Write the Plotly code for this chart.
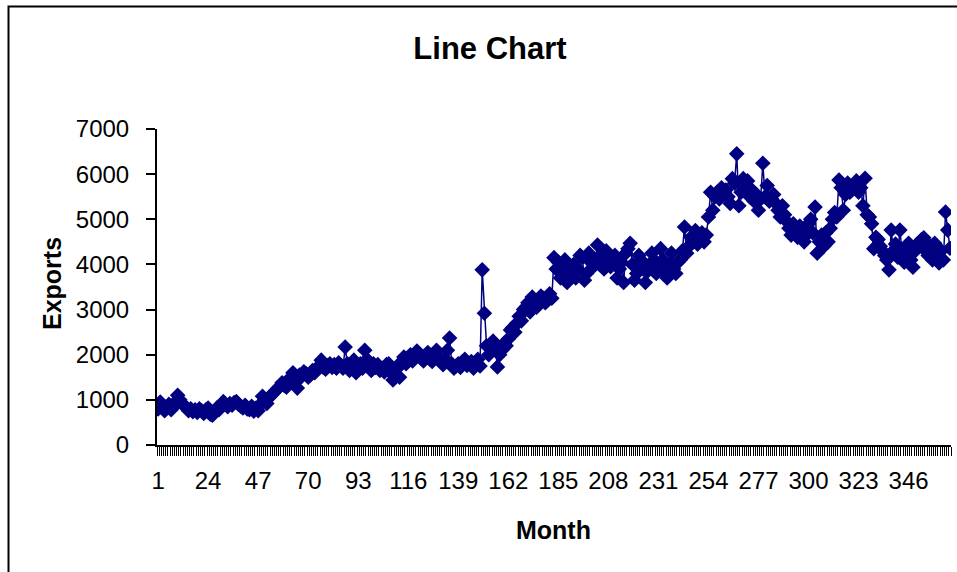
import plotly.graph_objects as go

months = list(range(1, 366))

exports = [
    800, 950, 880, 760, 820, 900, 780, 850, 950, 1100, 1000, 920,
    880, 820, 760, 800, 740, 780, 720, 800, 760, 700, 780, 820,
    680, 660, 760, 820, 780, 880, 960, 900, 850, 920, 880, 940,
    960, 900, 860, 820, 880, 800, 780, 860, 750, 820, 760, 900,
    1080, 1000, 920, 1050, 1100, 1150, 1200, 1250, 1300, 1380, 1320, 1280,
    1420, 1500, 1600, 1380, 1260, 1550, 1520, 1620, 1580, 1500, 1550, 1650,
    1600, 1700, 1750, 1880, 1720, 1680, 1760, 1800, 1720, 1780, 1700, 1820,
    1760, 1700, 2170, 1800, 1650, 1720, 1880, 1600, 1750, 1800, 1700, 2100,
    1900, 1750, 1650, 1800, 1720, 1780, 1650, 1700, 1620, 1780, 1800, 1600,
    1440, 1550, 1700, 1500, 1850, 1950, 1800, 1900, 2000, 1860, 1950, 2080,
    2000, 1920, 1860, 1980, 2050, 1900, 1850, 2000, 2100, 1950, 1850, 1780,
    1900, 2100, 2370, 1800, 1700, 1750, 1800, 1720, 1850, 1900, 1760, 1800,
    1850, 1700, 1780, 1900, 1750, 3880, 2920, 2200, 2000, 2250, 2300, 2150,
    1730, 2000, 2100, 2250, 2200, 2350, 2550, 2600, 2500, 2700, 2850, 2750,
    3000, 3050, 3150, 2950, 3280, 3150, 3050, 3200, 3300, 3250, 3150, 3200,
    3350, 3250, 4150, 3900, 4050, 3700, 3850, 4100, 3600, 3950, 3800, 4000,
    3700, 3900, 4200, 4150, 3650, 3800, 4250, 4050, 3950, 4100, 4430, 4000,
    4200, 3900, 4300, 4100, 3950, 4150, 4200, 3700, 3900, 4050, 3600, 4250,
    4350, 4470, 4000, 3650, 3800, 4200, 4100, 3900, 3600, 3850, 4000, 4250,
    4100, 3800, 3950, 4350, 4100, 3850, 3700, 4000, 4250, 3900, 3800, 4050,
    4100, 4300, 4830, 4250, 4400, 4600, 4500, 4750, 4450, 4550, 4700, 4500,
    4650, 5050, 5600, 5200, 5500, 5600, 5450, 5700, 5550, 5650, 5500, 5350,
    5900, 5800, 6450, 5300, 5600, 5900, 5700, 5850, 5500, 5650, 5400, 5550,
    5200, 5450, 6240, 5500, 5750, 5400, 5450, 5550, 5350, 5200, 5050, 5300,
    5100, 4950, 4800, 4650, 4900, 4700, 4600, 4850, 4750, 4500, 4650, 4900,
    5000, 4700, 5270, 4250, 4500, 4650, 4400, 4700, 4500, 4800, 5000, 5150,
    5050, 5870, 5700, 5200, 5550, 5800, 5600, 5650, 5750, 5850, 5600, 5700,
    5300, 5910, 5100, 5050, 4900, 4350, 4600, 4550, 4400, 4300, 4200, 4100,
    3880, 4760, 4300, 4450, 4160, 4760, 4300, 4050, 4200, 4470, 4100, 3940,
    4300, 4450, 4400, 4550, 4590, 4300, 4200, 4400, 4100, 4470, 4200, 4030,
    4300, 4100, 5160, 4760, 4360,
]

label_months = [1, 24, 47, 70, 93, 116, 139, 162, 185, 208, 231, 254, 277, 300, 323, 346]
y_ticks = [0, 1000, 2000, 3000, 4000, 5000, 6000, 7000]

FONT = "Arial, 'Liberation Sans', sans-serif"
NAVY = "#000080"

fig = go.Figure()
fig.add_trace(go.Scatter(
    x=months, y=exports, mode="lines+markers",
    line=dict(color=NAVY, width=1.5),
    marker=dict(symbol="diamond", size=12, color=NAVY),
    showlegend=False,
))

n = len(months)

fig.update_layout(
    width=957, height=572,
    margin=dict(l=157, r=6, t=129, b=127),
    paper_bgcolor="white", plot_bgcolor="white",
    font=dict(family=FONT, color="black", size=24),
    title=dict(text="<b>Line Chart</b>", x=490/957, y=1-48/572,
               xref="container", yref="container",
               xanchor="center", yanchor="middle",
               font=dict(size=31, family=FONT, color="black")),
    xaxis=dict(
        range=[0.5, n + 0.5], tickmode="array", tickvals=label_months,
        ticktext=[str(m) for m in label_months], ticks="",
        ticklabelstandoff=13,
        tickfont=dict(size=24, family=FONT, color="black"),
        minor=dict(tick0=0.5, dtick=1, ticks="outside", ticklen=9,
                   tickwidth=1.2, tickcolor="black", showgrid=False),
        showline=True, linecolor="black", linewidth=2,
        showgrid=False, zeroline=False,
    ),
    yaxis=dict(
        range=[0, 7000], tickmode="array", tickvals=y_ticks,
        ticks="outside", ticklen=9, tickwidth=2, tickcolor="black",
        showline=True, linecolor="black", linewidth=2,
        showgrid=False, zeroline=False, ticklabelstandoff=12,
        tickfont=dict(size=24, family=FONT, color="black"),
    ),
    annotations=[
        dict(text="<b>Exports</b>", x=(52-157)/794, y=(445-284)/316,
             xref="paper", yref="paper", textangle=-90, showarrow=False,
             xanchor="center", yanchor="middle",
             font=dict(size=25, family=FONT, color="black")),
        dict(text="<b>Month</b>", x=(553-157)/794, y=(445-530)/316,
             xref="paper", yref="paper", showarrow=False,
             xanchor="center", yanchor="middle",
             font=dict(size=25, family=FONT, color="black")),
    ],
    shapes=[
        dict(type="rect", xref="paper", yref="paper",
             x0=(8.5-157)/794, x1=1.2, y0=-0.6, y1=(445-6.5)/316,
             line=dict(color="black", width=2), fillcolor="rgba(0,0,0,0)",
             layer="below"),
    ],
)

fig.write_html("out.html", config={"displayModeBar": False},
               post_script="document.body.style.margin='0';")
